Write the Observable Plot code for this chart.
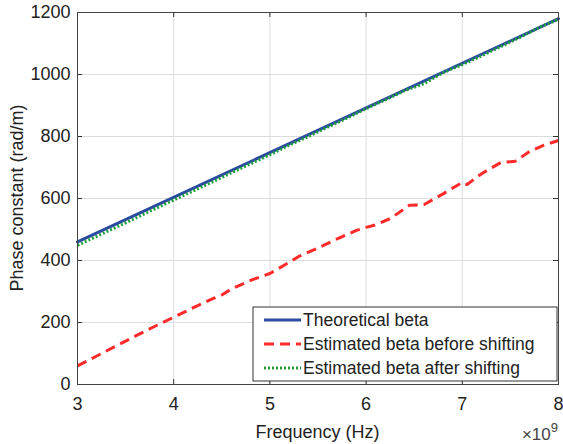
<!DOCTYPE html>
<html>
<head>
<meta charset="utf-8">
<script src="https://cdn.jsdelivr.net/npm/d3@7"></script>
<script src="https://cdn.jsdelivr.net/npm/@observablehq/plot@0.6"></script>
<style>
  html, body { margin: 0; padding: 0; background: #fff; }
  svg { font-family: "Liberation Sans", Arial, sans-serif; }
</style>
</head>
<body>
<div id="chart"></div>
<script>
// ---- data (frequency in units of 1e9 Hz, phase constant in rad/m) ----
const theoFreq = [3, 8];
const theoBeta = [460, 1180];

const beforeFreq = [3.0, 3.2, 3.4, 3.6, 3.8, 4.0, 4.2, 4.4, 4.5, 4.6, 4.8, 5.0, 5.2, 5.3, 5.5, 5.7, 5.9, 6.0, 6.1, 6.25, 6.45, 6.6, 6.8, 7.0, 7.05, 7.2, 7.4, 7.55, 7.7, 7.85, 8.0];
const beforeBeta = [60, 92, 124, 156, 187, 217, 247, 276, 289, 308, 336, 358, 394, 413, 440, 470, 497, 507, 515, 535, 578, 580, 615, 652, 645, 680, 716, 720, 752, 772, 787];

const afterFreq = [3.0, 3.2, 3.4, 3.6, 3.8, 4.0, 4.2, 4.4, 4.6, 4.8, 5.0, 5.2, 5.4, 5.6, 5.8, 6.0, 6.2, 6.4, 6.6, 6.8, 7.0, 7.2, 7.4, 7.6, 7.8, 8.0];
const afterBeta = [449, 478, 507, 536, 566, 595, 624, 653, 683, 712, 741, 772, 800, 830, 859, 890, 918, 948, 970, 1006, 1032, 1060, 1090, 1120, 1152, 1178];

const xTicks = [3, 4, 5, 6, 7, 8];
const yTicks = [0, 200, 400, 600, 800, 1000, 1200];

const seriesNames = ["Theoretical beta", "Estimated beta before shifting", "Estimated beta after shifting"];
const xLabel = "Frequency (Hz)";
const yLabel = "Phase constant (rad/m)";

// ---- build tables ----
const theo = theoFreq.map((f, i) => ({f, b: theoBeta[i]}));
const before = beforeFreq.map((f, i) => ({f, b: beforeBeta[i]}));
const after = afterFreq.map((f, i) => ({f, b: afterBeta[i]}));

const W = 563, H = 444;
const mL = 77, mR = 5, mT = 12, mB = 60;
const pw = W - mL - mR, ph = H - mT - mB;

const blue = "#2a4b9f", red = "#ff2b2b", green = "#1f9e3c";
const fs = 18;
const redDash = "10,6", greenDash = "2,2";

const chart = Plot.plot({
  width: W, height: H,
  marginLeft: mL, marginRight: mR, marginTop: mT, marginBottom: mB,
  style: {fontFamily: "'Liberation Sans', Arial, sans-serif", fontSize: fs + "px", color: "#222", background: "#fff"},
  x: {domain: [3, 8], ticks: xTicks},
  y: {domain: [0, 1200], ticks: yTicks},
  marks: [
    Plot.gridX(xTicks, {stroke: "#dcdcdc", strokeOpacity: 1}),
    Plot.gridY(yTicks, {stroke: "#dcdcdc", strokeOpacity: 1}),
    // inward ticks (MATLAB box style)
    Plot.tickX(xTicks, {x: d => d, stroke: "#333", insetTop: ph - 5}),
    Plot.tickX(xTicks, {x: d => d, stroke: "#333", insetBottom: ph - 5}),
    Plot.tickY(yTicks, {y: d => d, stroke: "#333", insetRight: pw - 5}),
    Plot.tickY(yTicks, {y: d => d, stroke: "#333", insetLeft: pw - 5}),
    Plot.axisX(xTicks, {tickSize: 0, tickPadding: 13, label: null, fontSize: fs, fill: "#222", tickFormat: d => String(d)}),
    Plot.axisY(yTicks, {tickSize: 0, tickPadding: 7, label: null, fontSize: fs, fill: "#222", tickFormat: d => String(d)}),
    Plot.line(theo, {x: "f", y: "b", stroke: blue, strokeWidth: 3}),
    Plot.line(before, {x: "f", y: "b", stroke: red, strokeWidth: 3, strokeDasharray: redDash, strokeLinecap: "butt"}),
    Plot.line(after, {x: "f", y: "b", stroke: green, strokeWidth: 3, strokeDasharray: greenDash, strokeLinecap: "butt"}),
    Plot.frame({stroke: "#444", strokeWidth: 1})
  ]
});

const svg = d3.select(chart);

// axis titles
svg.append("text")
  .attr("x", mL + pw / 2).attr("y", 438)
  .attr("text-anchor", "middle")
  .attr("font-size", 18).attr("fill", "#222")
  .text(xLabel);

svg.append("text")
  .attr("transform", `translate(23, ${mT + ph / 2}) rotate(-90)`)
  .attr("text-anchor", "middle")
  .attr("font-size", 18).attr("fill", "#222")
  .text(yLabel);

// exponent
const ex = svg.append("text").attr("x", W - 5).attr("y", 440).attr("text-anchor", "end").attr("fill", "#444").attr("font-size", 17);
ex.append("tspan").text("\u00d710");
ex.append("tspan").attr("dy", -8).attr("font-size", 13).text("9");

// legend
const lgX = 253, lgY = 307, lgW = 304, lgH = 74;
const lg = svg.append("g").attr("text-anchor", "start");
lg.append("rect").attr("x", lgX).attr("y", lgY).attr("width", lgW).attr("height", lgH)
  .attr("fill", "#fff").attr("stroke", "#333").attr("stroke-width", 1);
const styles = [
  {stroke: blue, dash: null},
  {stroke: red, dash: redDash},
  {stroke: green, dash: greenDash}
];
seriesNames.forEach((name, i) => {
  const cy = lgY + 13 + i * 24;
  lg.append("line").attr("x1", lgX + 11).attr("x2", lgX + 48).attr("y1", cy).attr("y2", cy)
    .attr("stroke", styles[i].stroke).attr("stroke-width", 3)
    .attr("stroke-dasharray", styles[i].dash);
  lg.append("text").attr("x", lgX + 50).attr("y", cy + 6)
    .attr("text-anchor", "start")
    .attr("font-size", 17.5).attr("fill", "#222").text(name);
});

document.getElementById("chart").appendChild(chart);
</script>
</body>
</html>
